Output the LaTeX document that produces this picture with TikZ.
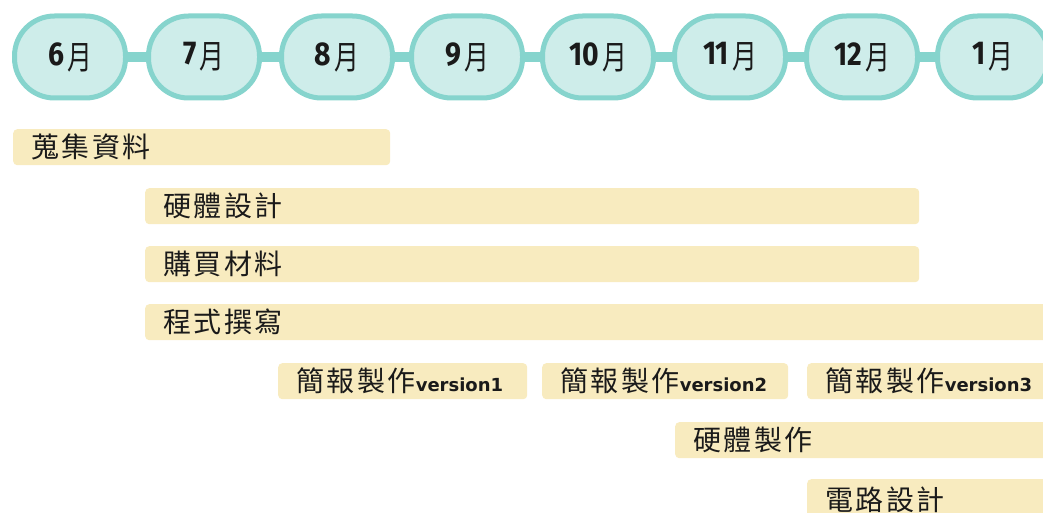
\documentclass[tikz,border=0pt]{standalone}
\usepackage{fontspec}
\newfontfamily\cjk[LetterSpace=9]{Noto Sans CJK TC}
\newfontfamily\cjkm[FakeStretch=0.75]{Noto Sans CJK TC}
\newfontfamily\numfont[FakeStretch=0.86]{Fira Sans}
\newfontfamily\verfont{DejaVu Sans}
\definecolor{pillborder}{HTML}{86D4CD}
\definecolor{pillfill}{HTML}{CEEDEA}
\definecolor{barfill}{HTML}{F8EBBF}
\definecolor{ink}{HTML}{1A1A1A}
\newcommand{\mon}[1]{\raisebox{-3pt}{{\numfont\bfseries\fontsize{33}{33}\selectfont #1}\hspace{3pt}\raisebox{-4pt}{\cjkm\fontsize{33}{33}\selectfont 月}}}
\newcommand{\ver}[1]{{\verfont\bfseries\fontsize{18}{18}\selectfont version#1}}
\begin{document}
\begin{tikzpicture}[x=1pt,y=-1pt,
  month/.style={draw=pillborder, line width=5pt, fill=pillfill, rounded corners=40pt,
    minimum width=111pt, minimum height=82pt, inner sep=0pt, text=ink},
  conn/.style={draw=pillborder, line width=10pt},
  bar/.style={fill=barfill, rounded corners=4pt, anchor=north west, minimum height=36pt,
    inner xsep=18pt, inner ysep=0pt, align=left, text=ink, font=\cjk\fontsize{28}{28}\selectfont}]
\useasboundingbox (0,0) rectangle (1043,513);
\clip (0,0) rectangle (1043,513);
% month pills
\node[month] (m6)  at (70,57)  {\mon{6}};
\node[month] (m7)  at (204,57) {\mon{7}};
\node[month] (m8)  at (337,57) {\mon{8}};
\node[month] (m9)  at (467,57) {\mon{9}};
\node[month] (m10) at (598,57) {\mon{10}};
\node[month] (m11) at (730,57) {\mon{11}};
\node[month] (m12) at (862,57) {\mon{12}};
\node[month] (m1)  at (993,57) {\mon{1}};
\draw[conn] (m6.east) -- (m7.west);
\draw[conn] (m7.east) -- (m8.west);
\draw[conn] (m8.east) -- (m9.west);
\draw[conn] (m9.east) -- (m10.west);
\draw[conn] (m10.east) -- (m11.west);
\draw[conn] (m11.east) -- (m12.west);
\draw[conn] (m12.east) -- (m1.west);
% task bars
\node[bar, text width=341pt] (b1) at (13,129)  {蒐集資料};
\node[bar, text width=738pt] (b2) at (145,188) {硬體設計};
\node[bar, text width=738pt] (b3) at (145,246) {購買材料};
\node[bar, text width=874pt] (b4) at (145,304) {程式撰寫};
\node[bar, text width=213pt] (b5) at (278,363) {簡報製作\ver{1}};
\node[bar, text width=210pt] (b6) at (542,363) {簡報製作\ver{2}};
\node[bar, text width=264pt] (b7) at (807,363) {簡報製作\ver{3}};
\node[bar, text width=364pt] (b8) at (675,422) {硬體製作};
\node[bar, text width=264pt, minimum height=42pt] (b9) at (807,479) {電路設計};
\end{tikzpicture}
\end{document}
